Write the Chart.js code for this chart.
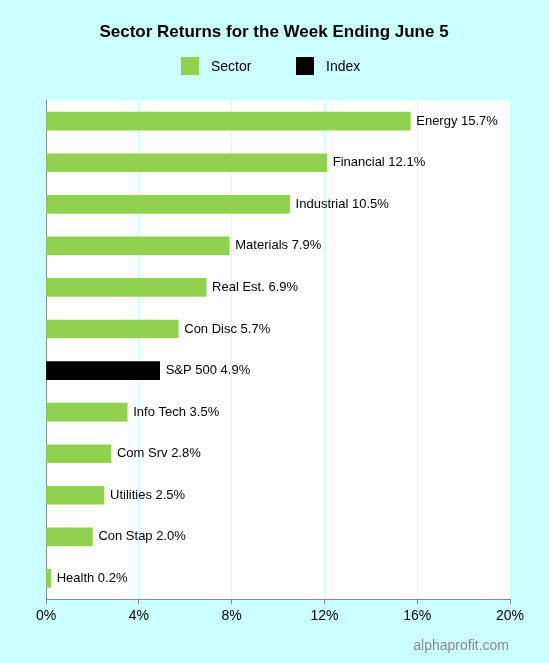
<!DOCTYPE html>
<html><head><meta charset="utf-8">
<script src="https://cdn.jsdelivr.net/npm/chart.js@4"></script>
<style>html,body{margin:0;padding:0;background:#ccffff;}#wrap{width:549px;height:663px;position:relative}</style>
</head><body><div id="wrap"><canvas id="c" width="549" height="663"></canvas></div>
<script>
const categories = ["Energy","Financial","Industrial","Materials","Real Est.","Con Disc","S&P 500","Info Tech","Com Srv","Utilities","Con Stap","Health"];
const returns = [15.7,12.1,10.5,7.9,6.9,5.7,4.9,3.5,2.8,2.5,2.0,0.2];
const isIndex = [0,0,0,0,0,0,1,0,0,0,0,0];
const xTicks = [0,4,8,12,16,20];

const GREEN = "#92d050", BLACK = "#000000";

const bgPlugin = {
  id: "bg",
  beforeDraw(chart){
    const {ctx, chartArea:a} = chart;
    ctx.save();
    ctx.fillStyle = "#ccffff";
    ctx.fillRect(0,0,chart.width,chart.height);
    ctx.fillStyle = "#ffffff";
    ctx.fillRect(a.left,a.top,a.right-a.left,a.bottom-a.top);
    ctx.restore();
  },
  afterDatasetsDraw(chart){
    const {ctx} = chart;
    const meta = chart.getDatasetMeta(0);
    ctx.save();
    ctx.font = "13px Arial, 'Liberation Sans'";
    ctx.fillStyle = "#000";
    ctx.textBaseline = "middle";
    meta.data.forEach((bar,i)=>{
      ctx.fillText(categories[i]+" "+returns[i].toFixed(1)+"%", bar.x+6, bar.y);
    });
    ctx.font = "14px Arial, 'Liberation Sans'";
    ctx.fillStyle = "#888";
    ctx.textAlign = "right";
    ctx.fillText("alphaprofit.com", 509, 646);
    // legend
    ctx.textAlign = "left";
    ctx.fillStyle = GREEN; ctx.fillRect(181,57,18,18);
    ctx.fillStyle = BLACK; ctx.fillRect(296,57,18,18);
    ctx.fillStyle = "#000";
    ctx.fillText("Sector", 211, 67);
    ctx.fillText("Index", 326, 67);
    ctx.restore();
  }
};

new Chart(document.getElementById("c"), {
  type: "bar",
  data: {
    labels: categories,
    datasets: [{
      data: returns,
      backgroundColor: isIndex.map(v => v ? BLACK : GREEN),
      barThickness: 18
    }]
  },
  options: {
    indexAxis: "y",
    responsive: false,
    animation: false,
    layout: {padding: {left: 38, right: 39, top: 0, bottom: 34}},
    plugins: {
      legend: {display: false},
      tooltip: {enabled: false},
      title: {
        display: true,
        text: "Sector Returns for the Week Ending June 5",
        font: {size: 17, weight: "bold", family: "Arial, 'Liberation Sans'"},
        color: "#000",
        padding: {top: 22, bottom: 58}
      }
    },
    scales: {
      x: {
        min: 0, max: 20,
        afterBuildTicks(axis){ axis.ticks = xTicks.map(v => ({value: v})); },
        ticks: {callback: v => v + "%", color: "#000", font: {size: 14, family: "Arial, 'Liberation Sans'"}, padding: 4},
        grid: {color: "#ccffff", drawTicks: true, tickLength: 5, tickColor: "#888"},
        border: {color: "#888"}
      },
      y: {
        ticks: {display: false},
        grid: {display: false},
        border: {color: "#888"}
      }
    }
  },
  plugins: [bgPlugin]
});
</script></body></html>
